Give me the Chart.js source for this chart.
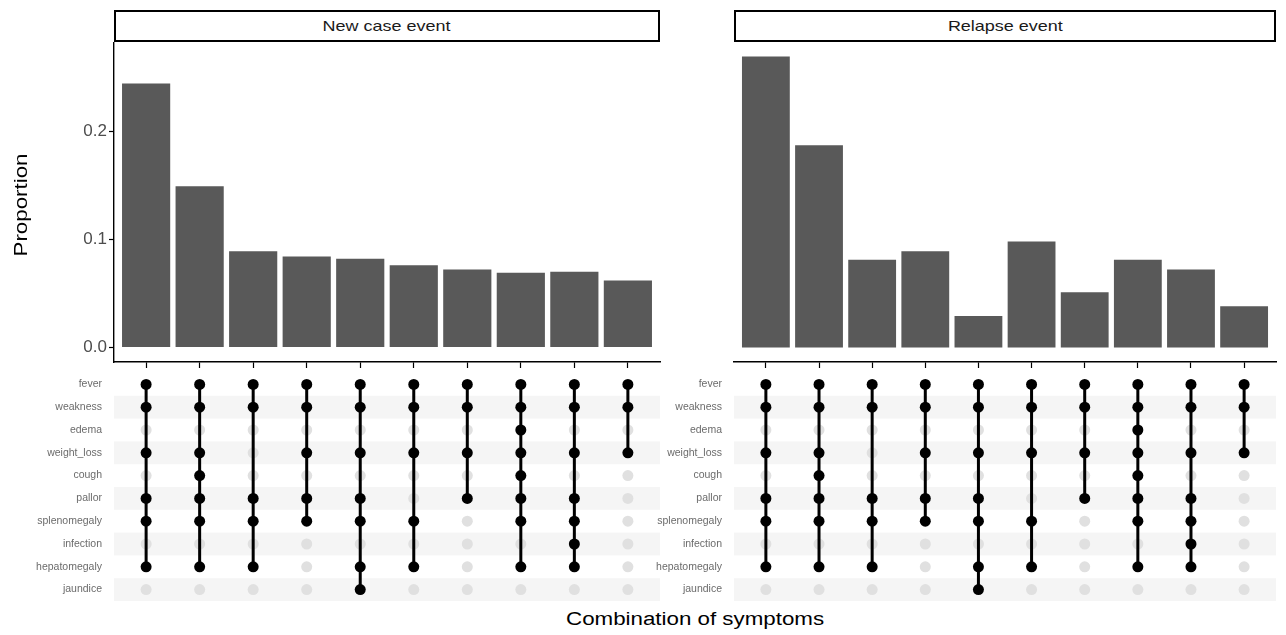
<!DOCTYPE html>
<html>
<head>
<meta charset="utf-8">
<script src="https://cdn.jsdelivr.net/npm/chart.js@4.4.1/dist/chart.umd.min.js"></script>
<style>
  body { margin: 0; background: #fff; font-family: "Liberation Sans", Arial, sans-serif; }
  #wrap { position: relative; width: 1286px; height: 635px; overflow: hidden; }
  canvas { position: absolute; }
  .strip { position: absolute; top: 10px; height: 28px; border: 2px solid #000;
           text-align: center; line-height: 28px; font-size: 14.5px; color: #1a1a1a; }
  .wide { display: inline-block; transform: scaleX(1.24); }
  #xtitle { position: absolute; left: 0; width: 1390px; top: 609px; text-align: center; font-size: 18px; color: #000; }
  #ytitle { position: absolute; left: -79px; top: 193px; width: 200px; height: 24px; line-height: 24px;
            text-align: center; font-size: 18px; color: #000; transform: rotate(-90deg) scaleX(1.24); }
</style>
</head>
<body>
<div id="wrap">
  <div class="strip" style="left:114px; width:542px;"><span class="wide">New case event</span></div>
  <div class="strip" style="left:734px; width:538px;"><span class="wide">Relapse event</span></div>
  <canvas id="barNew" width="670" height="328" style="left:0; top:42px;"></canvas>
  <canvas id="barRelapse" width="562" height="328" style="left:724px; top:42px;"></canvas>
  <canvas id="matNew" width="670" height="228" style="left:0; top:373px;"></canvas>
  <canvas id="matRelapse" width="666" height="228" style="left:620px; top:373px;"></canvas>
  <div id="ytitle">Proportion</div>
  <div id="xtitle"><span class="wide">Combination of symptoms</span></div>
</div>
<script>
window.addEventListener('load', function () {

const symptoms = ['fever', 'weakness', 'edema', 'weight_loss', 'cough', 'pallor',
  'splenomegaly', 'infection', 'hepatomegaly', 'jaundice'];

// symptom sets, one per bar (same order in both panels)
const combos = [
  ['fever', 'weakness', 'weight_loss', 'pallor', 'splenomegaly', 'hepatomegaly'],
  ['fever', 'weakness', 'weight_loss', 'cough', 'pallor', 'splenomegaly', 'hepatomegaly'],
  ['fever', 'weakness', 'pallor', 'splenomegaly', 'hepatomegaly'],
  ['fever', 'weakness', 'weight_loss', 'pallor', 'splenomegaly'],
  ['fever', 'weakness', 'weight_loss', 'pallor', 'splenomegaly', 'hepatomegaly', 'jaundice'],
  ['fever', 'weakness', 'weight_loss', 'splenomegaly', 'hepatomegaly'],
  ['fever', 'weakness', 'weight_loss', 'pallor'],
  ['fever', 'weakness', 'edema', 'weight_loss', 'cough', 'pallor', 'splenomegaly', 'hepatomegaly'],
  ['fever', 'weakness', 'weight_loss', 'pallor', 'splenomegaly', 'infection', 'hepatomegaly'],
  ['fever', 'weakness', 'weight_loss']
];

const newCaseValues = [0.244, 0.149, 0.089, 0.084, 0.082, 0.076, 0.072, 0.069, 0.070, 0.062];
const relapseValues = [0.269, 0.187, 0.081, 0.089, 0.029, 0.098, 0.051, 0.081, 0.072, 0.038];
const yTicks = [0, 0.1, 0.2];

const fam = '"Liberation Sans", Arial, sans-serif';
const cols = combos.map((c, i) => i + 1);

function barChart(id, values, showY) {
  return new Chart(document.getElementById(id), {
    type: 'bar',
    data: {
      datasets: [{
        data: values.map((v, i) => ({ x: cols[i], y: v })),
        backgroundColor: '#595959',
        borderWidth: 0,
        categoryPercentage: 1,
        barPercentage: 0.9
      }]
    },
    options: {
      responsive: false,
      animation: false,
      layout: { autoPadding: false, padding: { left: showY ? 0 : 10, right: 10, top: 0, bottom: 0 } },
      plugins: { legend: { display: false }, tooltip: { enabled: false } },
      scales: {
        x: {
          type: 'linear', min: 0.4, max: 10.6, offset: false,
          afterBuildTicks: s => { s.ticks = cols.map(c => ({ value: c })); },
          afterFit: s => { s.height = 8; s.paddingLeft = 0; s.paddingRight = 0; },
          ticks: { display: false },
          grid: { display: true, drawOnChartArea: false, offset: false, tickLength: 6, tickColor: '#000', tickWidth: 1.2 },
          border: { display: true, color: '#000', width: 1.4 }
        },
        y: {
          display: showY,
          min: -0.0135, max: 0.2825,
          afterBuildTicks: s => { s.ticks = yTicks.map(v => ({ value: v })); },
          afterFit: s => { if (showY) s.width = 114; s.paddingTop = 0; s.paddingBottom = 0; },
          ticks: { callback: v => v.toFixed(1), color: '#4d4d4d', font: { size: 17, family: fam }, padding: 2 },
          grid: { display: true, drawOnChartArea: false, tickLength: 5, tickColor: '#000', tickWidth: 1.2 },
          border: { display: true, color: '#000', width: 1.4 }
        }
      }
    }
  });
}

// light stripes behind every other symptom row
const stripes = {
  id: 'stripes',
  beforeDatasetsDraw(chart) {
    const y = chart.scales.y, a = chart.chartArea, ctx = chart.ctx;
    const h = y.getPixelForValue(1) - y.getPixelForValue(0);
    ctx.save();
    ctx.fillStyle = '#f5f5f5';
    symptoms.forEach((s, i) => {
      if (i % 2 === 1) ctx.fillRect(a.left, y.getPixelForValue(i) - h / 2, a.right - a.left, h);
    });
    ctx.restore();
  }
};

function matrixChart(id) {
  const empty = [], filled = [], lines = [];
  combos.forEach((combo, i) => {
    const rows = [];
    symptoms.forEach((s, r) => {
      if (combo.includes(s)) { filled.push({ x: cols[i], y: s }); rows.push(r); }
      else empty.push({ x: cols[i], y: s });
    });
    lines.push({
      data: [{ x: cols[i], y: symptoms[Math.min(...rows)] }, { x: cols[i], y: symptoms[Math.max(...rows)] }],
      showLine: true, borderColor: '#000', borderWidth: 3, pointRadius: 0, order: 1
    });
  });
  return new Chart(document.getElementById(id), {
    type: 'scatter',
    data: {
      datasets: [
        { data: filled, backgroundColor: '#000', borderWidth: 0, pointRadius: 5.5, order: 0 },
        ...lines,
        { data: empty, backgroundColor: '#e0e0e0', borderWidth: 0, pointRadius: 5.5, order: 2 }
      ]
    },
    options: {
      responsive: false,
      animation: false,
      layout: { autoPadding: false, padding: { left: 0, right: 10, top: 0, bottom: 0 } },
      plugins: { legend: { display: false }, tooltip: { enabled: false } },
      scales: {
        x: { type: 'linear', min: 0.4, max: 10.6, display: false },
        y: {
          type: 'category', labels: symptoms, offset: true,
          afterFit: s => { s.width = 114; s.paddingTop = 0; s.paddingBottom = 0; },
          ticks: { color: '#6b6b6b', font: { size: 10.5, family: fam }, padding: 4 },
          grid: { display: false },
          border: { display: false }
        }
      }
    },
    plugins: [stripes]
  });
}

barChart('barNew', newCaseValues, true);
barChart('barRelapse', relapseValues, false);
matrixChart('matNew');
matrixChart('matRelapse');

});
</script>
</body>
</html>
